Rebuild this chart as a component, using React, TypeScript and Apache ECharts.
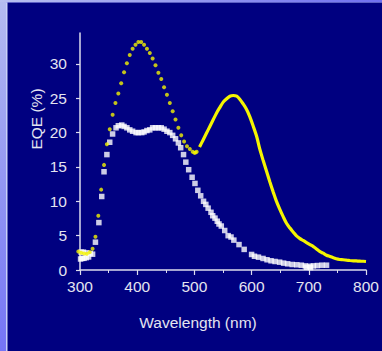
import React, { useEffect, useRef } from "react";
import * as echarts from "echarts";

// Yellow series: sparse dots (nm, EQE %)
const yellowDots: [number, number][] = [
  [297, 2.7], [302, 2.5], [307, 2.4], [312, 2.36], [317, 2.6], [322, 3.1], [327, 4.84],
  [332, 7.9], [337, 11.7], [342, 15.3], [347, 18.3], [352, 20.5], [357, 22.6], [362, 24.3],
  [367, 25.7], [372, 27.2], [377, 28.8], [382, 30.1], [387, 31.3], [392, 32.2], [397, 32.8],
  [402, 33.2], [407, 33.2], [412, 32.8], [417, 32.2], [422, 31.6], [427, 30.8], [432, 29.8],
  [437, 28.7], [442, 27.8], [447, 26.6], [452, 25.5], [457, 24.3], [462, 23.1], [467, 21.9],
  [472, 20.7], [477, 19.6], [482, 18.7], [487, 18.0], [492, 17.6], [497, 17.2], [500, 17.05],
  [502, 17.1], [504, 17.2],
];

// Yellow series: dense part (drawn as a continuous trace)
const yellowDense: [number, number][] = [
  [509, 17.9], [515, 18.9], [521, 19.9], [527, 20.9], [533, 21.9], [539, 22.9], [544, 23.6],
  [550, 24.4], [556, 24.9], [562, 25.3], [568, 25.4], [574, 25.3], [579, 24.9], [585, 24.2],
  [591, 23.4], [597, 22.3], [603, 20.9], [609, 19.4], [614, 17.7], [620, 16.0], [626, 14.4],
  [632, 12.8], [638, 11.3], [643, 10.1], [649, 8.9], [655, 7.8], [661, 6.8], [667, 6.1],
  [673, 5.5], [678, 5.0], [684, 4.6], [690, 4.3], [696, 4.0], [702, 3.7], [708, 3.4],
  [713, 3.1], [719, 2.7], [725, 2.45], [731, 2.15], [737, 1.97], [743, 1.78], [748, 1.63],
  [754, 1.53], [760, 1.49], [766, 1.43], [772, 1.38], [778, 1.34], [783, 1.32], [789, 1.28],
  [795, 1.27], [800, 1.24],
];

// White series: squares
const whiteSquares: [number, number][] = [
  [301, 1.6], [304, 1.7], [307, 1.7], [311, 1.8], [315, 1.9], [302, 2.6], [306, 2.6], [311, 2.5],
  [318, 2.4], [322, 2.3], [327, 4.05], [333, 6.9], [338, 10.7], [342, 14.3], [347, 16.8],
  [352, 18.6], [357, 19.8], [363, 20.7], [367, 21.0], [373, 21.1], [377, 20.9], [382, 20.7],
  [387, 20.4], [392, 20.2], [398, 20.0], [402, 20.0], [408, 20.0], [412, 20.1], [417, 20.3],
  [422, 20.4], [427, 20.7], [432, 20.7], [437, 20.7], [442, 20.7], [447, 20.5], [452, 20.2],
  [457, 20.0], [462, 19.6], [467, 19.1], [472, 18.5], [476, 17.8], [481, 16.8], [485, 15.7],
  [490, 14.6], [496, 13.5], [501, 12.6], [506, 11.6], [511, 10.8], [516, 10.0], [520, 9.55],
  [524, 9.0], [529, 8.4], [532, 7.9], [536, 7.55], [540, 7.1], [543, 6.7], [547, 6.4],
  [553, 5.75], [559, 5.0], [564, 4.8], [569, 4.35], [578, 3.7], [587, 3.0], [600, 2.26],
  [605, 2.0], [612, 1.87], [620, 1.68], [627, 1.49], [634, 1.34], [641, 1.24], [649, 1.14],
  [656, 1.0], [663, 0.9], [671, 0.8], [679, 0.76], [687, 0.7], [694, 0.6], [696, 0.4],
  [702, 0.55], [703, 0.35], [708, 0.6], [715, 0.65], [723, 0.7], [731, 0.7],
];

const yTicks = [0, 5, 10, 15, 20, 25, 30];
const xTicks = [300, 400, 500, 600, 700, 800];

const FONT = '"Liberation Sans", Arial, sans-serif';
const TXT = "#e4e4f0";
const AXIS = "#dcdcec";

export default function App() {
  const ref = useRef<HTMLDivElement>(null);
  useEffect(() => {
    if (!ref.current) return;
    const chart = echarts.init(ref.current, undefined, { renderer: "svg" });
    chart.setOption({
      animation: false,
      backgroundColor: "#000080",
      grid: { left: 80, right: 16, top: 33, bottom: 81 },
      xAxis: {
        type: "value",
        min: 300,
        max: 800,
        interval: 100,
        splitLine: { show: false },
        axisLine: { lineStyle: { color: AXIS, width: 1.5 } },
        axisTick: { show: true, length: 5, lineStyle: { color: AXIS, width: 1.2 } },
        minorTick: { show: true, splitNumber: 2, length: 3, lineStyle: { color: AXIS, width: 1 } },
        axisLabel: {
          color: TXT, fontFamily: FONT, fontSize: 15.5, margin: 8,
          customValues: xTicks,
        },
      },
      yAxis: {
        type: "value",
        min: 0,
        max: 34.5,
        interval: 5,
        splitLine: { show: false },
        axisLine: { show: true, lineStyle: { color: AXIS, width: 1.5 } },
        axisTick: { show: true, length: 4, customValues: yTicks, lineStyle: { color: AXIS, width: 1.2 } },
        axisLabel: {
          color: TXT, fontFamily: FONT, fontSize: 15.5, margin: 13,
          customValues: yTicks,
        },
      },
      graphic: [
        {
          type: "rect", shape: { x: 0, y: 0, width: 6, height: 351 },
          style: { fill: new echarts.graphic.LinearGradient(0, 0, 0, 1, [
            { offset: 0, color: "#b4bcf0" }, { offset: 1, color: "#7474f6" }]) },
        },
        { type: "rect", shape: { x: 6, y: 0, width: 1.5, height: 351 }, style: { fill: "#c8d0f8" } },
        {
          type: "rect", shape: { x: 0, y: 0, width: 382, height: 2 },
          style: { fill: new echarts.graphic.LinearGradient(0, 0, 1, 0, [
            { offset: 0, color: "#b8c0f0" }, { offset: 1, color: "#7070f0" }]) },
        },
        { type: "rect", shape: { x: 6, y: 2, width: 376, height: 1 }, style: { fill: "#9a9ef4", opacity: 0.6 } },
        {
          type: "text", x: 36.5, y: 119, rotation: Math.PI / 2,
          style: { text: "EQE (%)", fill: TXT, font: `15.5px ${FONT}`, align: "center", verticalAlign: "middle" },
        },
        {
          type: "text", x: 198, y: 322,
          style: { text: "Wavelength (nm)", fill: TXT, font: `15.5px ${FONT}`, align: "center", verticalAlign: "middle" },
        },
      ],
      series: [
        {
          type: "scatter", data: whiteSquares, symbol: "rect", symbolSize: 5.5, clip: false,
          itemStyle: { color: "#ffffff" }, z: 3,
        },
        {
          type: "scatter", data: yellowDots, symbol: "circle", symbolSize: 4, clip: false,
          itemStyle: { color: "#f4f400" }, z: 4,
        },
        {
          type: "line", data: yellowDense, smooth: 0.3, showSymbol: false, symbol: "none",
          lineStyle: { color: "#f4f400", width: 3.2 }, z: 4,
        },
      ],
    });
    return () => chart.dispose();
  }, []);
  return <div ref={ref} style={{ position: "fixed", left: 0, top: 0, width: 382, height: 351 }} />;
}
